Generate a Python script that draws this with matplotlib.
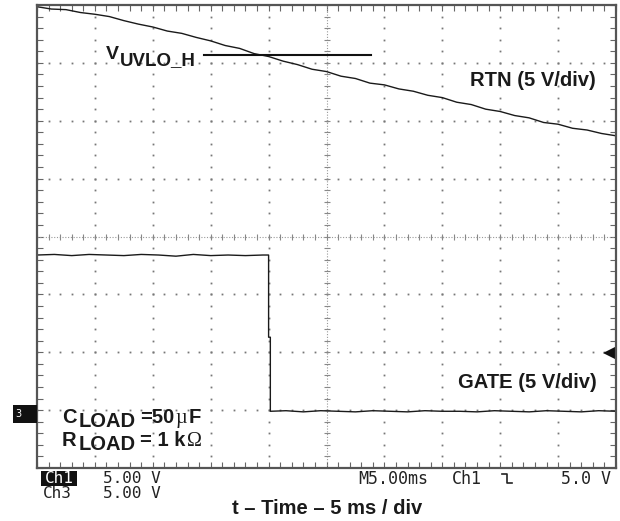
import numpy as np
import matplotlib
matplotlib.use("Agg")
import matplotlib.pyplot as plt
from matplotlib.lines import Line2D
from matplotlib.patches import Rectangle

# ---- data (x in divisions of 5 ms, y in divisions of 5 V) ----
rtn_x = [0.0, 0.25, 0.5, 0.75, 1.0, 1.25, 1.5, 1.75, 2.0, 2.25, 2.5, 2.75, 3.0, 3.25,
         3.5, 3.75, 4.0, 4.25, 4.5, 4.75, 5.0, 5.25, 5.5, 5.75, 6.0, 6.25, 6.5, 6.75,
         7.0, 7.25, 7.5, 7.75, 8.0, 8.25, 8.5, 8.75, 9.0, 9.25, 9.5, 9.75, 10.0]
rtn_y = [7.97, 7.93, 7.92, 7.87, 7.84, 7.80, 7.73, 7.67, 7.62, 7.55, 7.51, 7.44, 7.38, 7.30,
         7.25, 7.16, 7.11, 7.03, 6.97, 6.89, 6.85, 6.77, 6.73, 6.65, 6.62, 6.55, 6.51, 6.44,
         6.40, 6.32, 6.28, 6.20, 6.16, 6.09, 6.05, 5.97, 5.94, 5.87, 5.84, 5.78, 5.74]

gate_x = [0.0, 0.3, 0.6, 0.9, 1.2, 1.5, 1.8, 2.1, 2.4, 2.7, 3.0, 3.3, 3.6, 3.9,
          4.0, 4.0, 4.03, 4.03,
          4.3, 4.6, 4.9, 5.2, 5.5, 5.8, 6.1, 6.4, 6.7, 7.0, 7.3, 7.6, 7.9, 8.2, 8.5,
          8.8, 9.1, 9.4, 9.7, 10.0]
gate_y = [3.68, 3.69, 3.67, 3.69, 3.68, 3.67, 3.69, 3.68, 3.66, 3.69, 3.67, 3.68, 3.67, 3.68,
          3.68, 2.26, 2.26, 0.98,
          0.99, 0.97, 0.99, 0.98, 0.97, 0.99, 0.98, 0.97, 0.99, 0.98, 0.98, 0.97, 0.99,
          0.98, 0.97, 0.99, 0.98, 0.97, 0.99, 0.98]

uvlo_x = [2.88, 5.77]
uvlo_y = [7.14, 7.14]

trig_level = 1.99

W, H = 620, 521
fig = plt.figure(figsize=(W / 100, H / 100), dpi=100)
L, R, T, B = 37, 616, 5, 468
ax = fig.add_axes([L / W, 1 - B / H, (R - L) / W, (B - T) / H])
ax.set_xlim(0, 10)
ax.set_ylim(0, 8)

BOLD = dict(family=["Liberation Sans", "DejaVu Sans"], weight="bold", color="#1a1a1a")
MONO = dict(family=["DejaVu Sans Mono"], color="#222222")


def d(px, py):
    return ((px - L) / ((R - L) / 10), (B - py) / ((B - T) / 8))


def f(px, py):
    return (px / W, 1 - py / H)


# grid dots
fine = np.round(np.arange(0, 10.001, 0.2), 3)
finey = np.round(np.arange(0, 8.001, 0.2), 3)
for gx in range(1, 10):
    if gx == 5:
        continue
    ax.plot([gx] * len(finey), finey, ls="none", marker="s", ms=1.3, mew=0, color="#777777")
for gy in range(1, 8):
    if gy == 4:
        continue
    ax.plot(fine, [gy] * len(fine), ls="none", marker="s", ms=1.3, mew=0, color="#777777")
# center lines
ax.plot([5, 5], [0, 8], ls=(0, (1, 1.5)), lw=0.8, color="#999999")
ax.plot([0, 10], [4, 4], ls=(0, (1, 1.5)), lw=0.8, color="#999999")
ax.plot([5] * len(finey), finey, ls="none", marker="_", ms=5, mew=0.8, color="#888888")
ax.plot(fine, [4] * len(fine), ls="none", marker="|", ms=5, mew=0.8, color="#888888")

# border ticks
ax.set_xticks(fine)
ax.set_yticks(finey)
ax.tick_params(direction="in", length=4, width=0.8, color="#666666",
               top=True, right=True, labelbottom=False, labelleft=False)
for s in ax.spines.values():
    s.set_color("#555555")
    s.set_linewidth(1.6)

# traces
ax.plot(rtn_x, rtn_y, color="#1a1a1a", lw=1.0)
ax.plot(gate_x, gate_y, color="#1a1a1a", lw=1.0)
ax.plot(uvlo_x, uvlo_y, color="#111111", lw=1.5)

# trigger level arrow
ax.plot([9.88], [trig_level], marker="<", ms=8, mew=0, color="#111111", clip_on=False)

# labels inside
x, y = d(106, 54.5)
ax.text(x, y, "V", ha="left", va="center", fontsize=14, **BOLD)
x, y = d(120, 60.5)
ax.text(x, y, "UVLO_H", ha="left", va="center", fontsize=13.5, **BOLD)
x, y = d(596, 81)
ax.text(x, y, "RTN (5 V/div)", ha="right", va="center", fontsize=14.5, **BOLD)
x, y = d(597, 383)
ax.text(x, y, "GATE (5 V/div)", ha="right", va="center", fontsize=14.5, **BOLD)

x, y = d(62, 417.5)
ax.text(x, y, "C", ha="left", va="center", fontsize=14.5, **BOLD)
x, y = d(79, 421.5)
ax.text(x, y, "LOAD", ha="left", va="center", fontsize=14.5, **BOLD)
x, y = d(140, 417.5)
ax.text(x, y, "=50", ha="left", va="center", fontsize=14.5, **BOLD)
x, y = d(175, 418.5)
ax.text(x, y, "\u00b5", ha="left", va="center", fontsize=14.5,
        family=["Liberation Serif", "DejaVu Serif"], color="#1a1a1a")
x, y = d(189, 417.5)
ax.text(x, y, "F", ha="left", va="center", fontsize=14.5, **BOLD)

x, y = d(62, 441)
ax.text(x, y, "R", ha="left", va="center", fontsize=14.5, **BOLD)
x, y = d(79, 445)
ax.text(x, y, "LOAD", ha="left", va="center", fontsize=14.5, **BOLD)
x, y = d(140, 441)
ax.text(x, y, "= 1 k", ha="left", va="center", fontsize=14.5, **BOLD)
x, y = d(187, 441)
ax.text(x, y, "\u03a9", ha="left", va="center", fontsize=14.5,
        family=["Liberation Serif", "DejaVu Serif"], color="#1a1a1a")

# ch3 ground marker
fig.patches.append(Rectangle(f(13, 423), 24 / W, 18 / H, transform=fig.transFigure,
                             facecolor="#111111", edgecolor="none"))
fig.text(*f(15, 414), "3", color="white", fontsize=7, ha="left", va="center",
         family=["DejaVu Sans"])

# bottom scope readout
fig.patches.append(Rectangle(f(41, 486), 36 / W, 15 / H, transform=fig.transFigure,
                             facecolor="#111111", edgecolor="none"))
fig.text(*f(59, 478.5), "Ch1", ha="center", va="center", fontsize=11.5,
         **{**MONO, "color": "white"})
fig.text(*f(103, 478.5), "5.00 V", ha="left", va="center", fontsize=11.5, **MONO)
fig.text(*f(43, 493.5), "Ch3", ha="left", va="center", fontsize=11.5, **MONO)
fig.text(*f(103, 493.5), "5.00 V", ha="left", va="center", fontsize=11.5, **MONO)
fig.text(*f(358, 478.5), "M5.00ms", ha="left", va="center", fontsize=12, **MONO)
fig.text(*f(452, 478.5), "Ch1", ha="left", va="center", fontsize=12, **MONO)
fig.text(*f(611, 478.5), "5.0 V", ha="right", va="center", fontsize=12, **MONO)
xs = [502, 507, 507, 512]
ys = [474, 474, 483, 483]
fig.lines.append(Line2D([v / W for v in xs], [1 - v / H for v in ys], transform=fig.transFigure,
                        color="#222222", lw=1.2))

fig.text(*f(327, 508), "t \u2013 Time \u2013 5 ms / div", ha="center", va="center",
         fontsize=14.5, **BOLD)

fig.savefig("out.png", dpi=100)
